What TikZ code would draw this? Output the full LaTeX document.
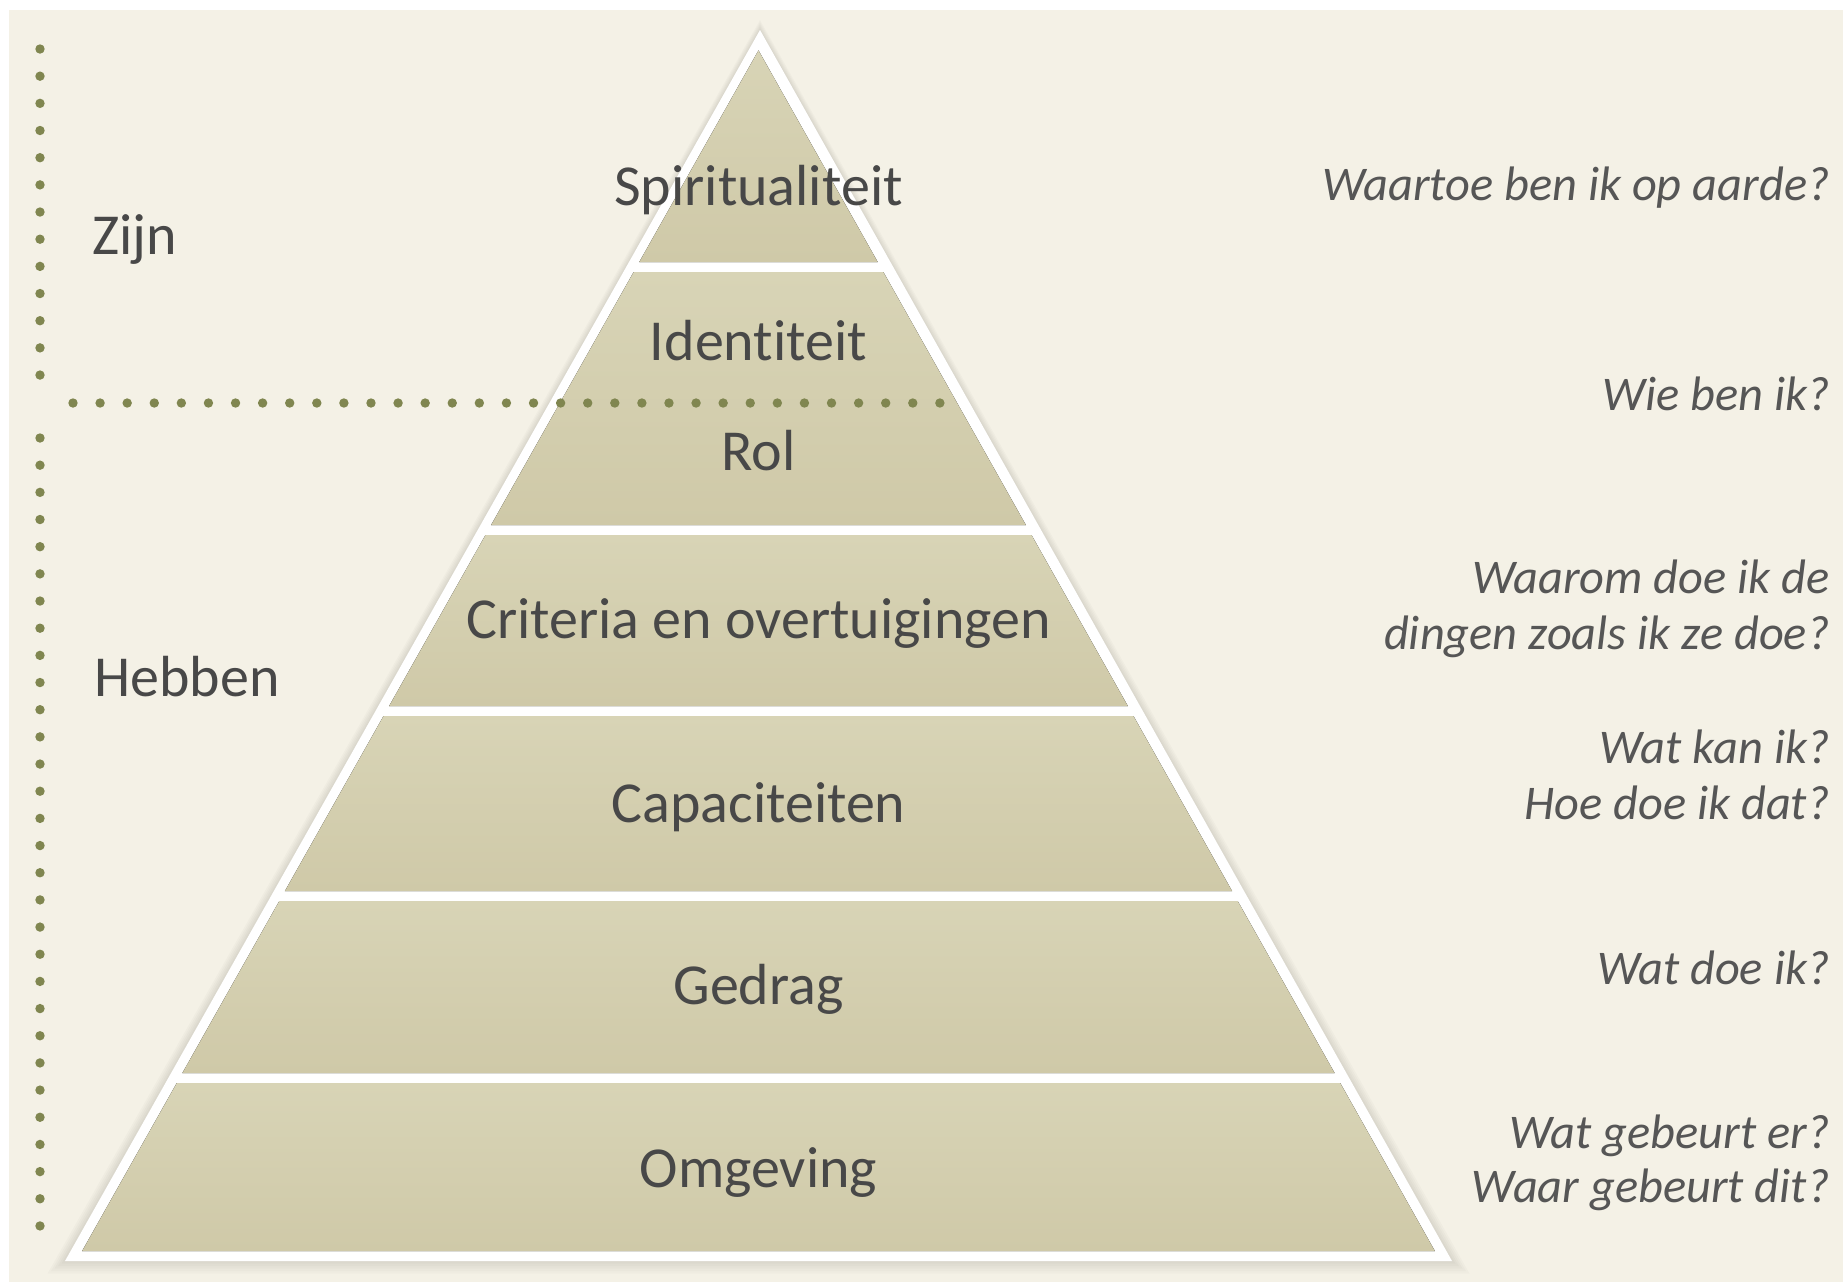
\documentclass[tikz,border=0pt]{standalone}
\usepackage{fontspec}
\setmainfont{Carlito}[Ligatures={NoCommon}]
\definecolor{bgcream}{RGB}{244,241,230}
\definecolor{layertop}{RGB}{216,212,182}
\definecolor{layerbot}{RGB}{207,201,168}
\definecolor{dotolive}{RGB}{128,134,80}
\definecolor{txtgray}{RGB}{72,72,72}
\definecolor{qgray}{RGB}{86,86,86}
\tikzset{
  layer/.style={top color=layertop, bottom color=layerbot, draw=none},
  lbl/.style={anchor=base, inner sep=0pt, text=txtgray, font=\fontsize{29pt}{34pt}\selectfont},
  side/.style={anchor=base west, inner sep=0pt, text=txtgray, font=\fontsize{29pt}{34pt}\selectfont},
  quest/.style={anchor=base east, inner sep=0pt, text=qgray, font=\fontsize{24.2pt}{29pt}\selectfont\itshape},
  dotmark/.style={fill=dotolive, draw=none}
}
\begin{document}
\begin{tikzpicture}[x=0.5pt, y=-0.5pt]
\useasboundingbox (0,0) rectangle (1843,1282);
\fill[white] (0,0) rectangle (1843,1282);
\fill[bgcream] (9,10) rectangle (1843,1282);
% soft shadow
\foreach \k in {1,...,5}{
  \fill[black, opacity=0.018] (760,30-2*\k) -- (65-3.5*\k,1261+2.5*\k) -- (1452+3.5*\k,1261+2.5*\k) -- cycle;
}
% white outline triangle
\fill[white] (760,30) -- (65,1261) -- (1452,1261) -- cycle;
% layers
\foreach \ya/\yb in {50.4/262, 272/525, 535/706, 716/891, 901/1073, 1083/1251}{
  \pgfmathsetmacro\wa{max(0,0.56336*(\ya-30)-11.5)}
  \pgfmathsetmacro\wb{0.56336*(\yb-30)-11.5}
  \fill[layer] (758.5-\wa,\ya) -- (758.5+\wa,\ya) -- (758.5+\wb,\yb) -- (758.5-\wb,\yb) -- cycle;
}
% dotted lines
\foreach \i in {0,...,12}{ \fill[dotmark] (40,49+27.17*\i) circle (4.7); }
\foreach \i in {0,...,29}{ \fill[dotmark] (40,438+27.17*\i) circle (4.7); }
\foreach \i in {0,...,32}{ \fill[dotmark] (73+27.09*\i,403) circle (4.7); }
% pyramid labels
\node[lbl] (spir) at (758.5,205) {Spiritualiteit};
\node[lbl] (iden) at (758.5,360) {Identiteit};
\node[lbl] (rol) at (758.5,470) {Rol};
\node[lbl] (crit) at (758.5,638) {Criteria en overtuigingen};
\node[lbl] (capa) at (758.5,822) {Capaciteiten};
\node[lbl] (gedr) at (758.5,1004) {Gedrag};
\node[lbl] (omge) at (758.5,1187) {Omgeving};
% side labels
\node[side] (zijn) at (92,254) {Zijn};
\node[side] (hebb) at (94,696) {Hebben};
% questions
\node[quest] (q1) at (1830,200) {Waartoe ben ik op aarde?};
\node[quest] (q2) at (1830,410) {Wie ben ik?};
\node[quest] (q3a) at (1830,593) {Waarom doe ik de};
\node[quest] (q3b) at (1830,649) {dingen zoals ik ze doe?};
\node[quest] (q4a) at (1830,763) {Wat kan ik?};
\node[quest] (q4b) at (1830,819) {Hoe doe ik dat?};
\node[quest] (q5) at (1830,984) {Wat doe ik?};
\node[quest] (q6a) at (1830,1148) {Wat gebeurt er?};
\node[quest] (q6b) at (1830,1202) {Waar gebeurt dit?};
\end{tikzpicture}
\end{document}
